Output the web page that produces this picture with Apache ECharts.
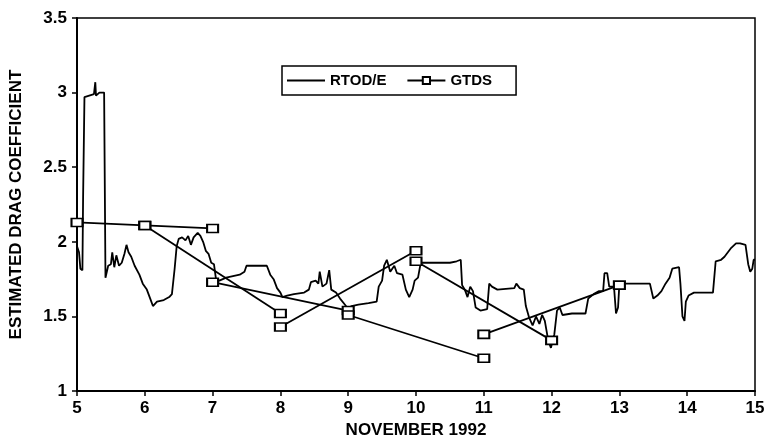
<!DOCTYPE html>
<html>
<head>
<meta charset="utf-8">
<script src="https://cdn.jsdelivr.net/npm/echarts@6/dist/echarts.min.js"></script>
<style>
  html, body { margin: 0; padding: 0; background: #fff; }
  #main { width: 768px; height: 444px; }
</style>
</head>
<body>
<div id="main"></div>
<script>
// day of November 1992
var rtodX = [5.00, 5.03, 5.05, 5.08, 5.09, 5.11, 5.18, 5.20, 5.25, 5.27, 5.28, 5.30, 5.33, 5.40, 5.42, 5.44, 5.46, 5.50, 5.52, 5.55,
  5.58, 5.62, 5.66, 5.70, 5.73, 5.76, 5.80, 5.85, 5.92, 5.97, 6.03, 6.08, 6.12, 6.18, 6.28, 6.36, 6.40, 6.44, 6.47, 6.50,
  6.55, 6.60, 6.64, 6.68, 6.72, 6.78, 6.82, 6.86, 6.90, 6.94, 6.98, 7.02, 7.05, 7.10, 7.20, 7.30, 7.40, 7.47, 7.50, 7.60,
  7.70, 7.80, 7.85, 7.90, 7.95, 8.00, 8.03, 8.10, 8.20, 8.35, 8.42, 8.45, 8.52, 8.56, 8.58, 8.62, 8.68, 8.72, 8.75, 8.82,
  8.88, 8.95, 9.00, 9.05, 9.15, 9.30, 9.42, 9.45, 9.50, 9.53, 9.57, 9.62, 9.68, 9.72, 9.80, 9.85, 9.90, 9.95, 9.98, 10.03,
  10.07, 10.30, 10.50, 10.60, 10.66, 10.68, 10.72, 10.76, 10.80, 10.84, 10.88, 10.95, 11.05, 11.08, 11.12, 11.20, 11.45, 11.48, 11.53, 11.59,
  11.62, 11.67, 11.72, 11.77, 11.82, 11.86, 11.90, 11.95, 11.99, 12.04, 12.08, 12.12, 12.16, 12.30, 12.50, 12.54, 12.62, 12.70, 12.76, 12.78,
  12.82, 12.85, 12.92, 12.95, 12.98, 13.00, 13.15, 13.30, 13.45, 13.50, 13.56, 13.62, 13.68, 13.74, 13.78, 13.88, 13.90, 13.93, 13.96, 13.98,
  14.02, 14.10, 14.20, 14.38, 14.42, 14.50, 14.55, 14.60, 14.65, 14.72, 14.78, 14.86, 14.90, 14.93, 14.96, 14.98, 15.00];
var rtodY = [1.97, 1.93, 1.82, 1.81, 2.30, 2.97, 2.98, 2.97, 2.99, 3.07, 2.98, 2.97, 3.00, 3.00, 1.76, 1.77, 1.84, 1.85, 1.93, 1.83,
  1.91, 1.84, 1.86, 1.92, 1.98, 1.93, 1.90, 1.84, 1.78, 1.72, 1.68, 1.62, 1.57, 1.60, 1.61, 1.63, 1.65, 1.82, 1.97, 2.02,
  2.03, 2.01, 2.04, 1.98, 2.03, 2.06, 2.04, 2.00, 1.94, 1.92, 1.86, 1.85, 1.75, 1.74, 1.76, 1.77, 1.78, 1.80, 1.84, 1.84,
  1.84, 1.84, 1.78, 1.75, 1.69, 1.66, 1.63, 1.64, 1.65, 1.66, 1.68, 1.73, 1.74, 1.72, 1.80, 1.70, 1.72, 1.81, 1.68, 1.66,
  1.62, 1.58, 1.55, 1.57, 1.58, 1.59, 1.60, 1.70, 1.74, 1.84, 1.88, 1.80, 1.84, 1.79, 1.78, 1.68, 1.63, 1.68, 1.74, 1.76,
  1.86, 1.86, 1.86, 1.87, 1.88, 1.71, 1.68, 1.63, 1.70, 1.67, 1.56, 1.54, 1.55, 1.72, 1.70, 1.68, 1.69, 1.72, 1.69, 1.68,
  1.57, 1.49, 1.44, 1.50, 1.45, 1.51, 1.47, 1.34, 1.29, 1.38, 1.54, 1.56, 1.51, 1.52, 1.52, 1.62, 1.65, 1.67, 1.67, 1.79,
  1.79, 1.70, 1.70, 1.52, 1.56, 1.72, 1.72, 1.72, 1.72, 1.62, 1.64, 1.67, 1.72, 1.76, 1.82, 1.83, 1.72, 1.50, 1.47, 1.60,
  1.64, 1.66, 1.66, 1.66, 1.87, 1.88, 1.90, 1.93, 1.96, 1.99, 1.99, 1.98, 1.85, 1.80, 1.82, 1.88, 1.88];

// GTDS solutions, one array per connected arc: [day, Cd]
var gtdsArc1 = [[5, 2.13], [6, 2.11], [7, 2.09]];
var gtdsArc2 = [[6, 2.11], [8, 1.52]];
var gtdsArc3 = [[7, 1.73], [9, 1.54]];
var gtdsArc4 = [[9, 1.51], [11, 1.22]];
var gtdsArc5 = [[8, 1.43], [10, 1.94]];
var gtdsArc6 = [[10, 1.87], [12, 1.34]];
var gtdsArc7 = [[11, 1.38], [13, 1.71]];

var yTicks = [1, 1.5, 2, 2.5, 3, 3.5];

var chartDom = document.getElementById("main");
var myChart = echarts.init(chartDom);
var font = "'Liberation Sans', Arial, sans-serif";

var rtodData = rtodX.map(function (x, i) {
  return [x, rtodY[i]];
});

function gtdsSeries(arc) {
  return {
    name: "GTDS",
    type: "line",
    data: arc,
    symbol: "rect",
    symbolSize: [11, 8],
    itemStyle: { color: "#fff", borderColor: "#000", borderWidth: 1.8 },
    lineStyle: { color: "#000", width: 1.8 },
    z: 3,
  };
}

var option = {
  animation: false,
  backgroundColor: "#fff",
  textStyle: { fontFamily: font, color: "#000" },
  grid: {
    left: 77,
    right: 13,
    top: 18,
    bottom: 48,
    show: true,
    borderColor: "#000",
    borderWidth: 1.5,
  },
  legend: {
    left: 282,
    top: 66,
    padding: [7, 24, 7, 4],
    itemGap: 20,
    itemWidth: 38,
    itemHeight: 9,
    borderColor: "#000",
    borderWidth: 1.5,
    data: [
      { name: "RTOD/E", itemStyle: { opacity: 0 } },
      { name: "GTDS" },
    ],
    textStyle: { fontFamily: font, fontSize: 15, fontWeight: "bold", color: "#000" },
  },
  xAxis: {
    type: "value",
    min: 5,
    max: 15,
    interval: 1,
    name: "NOVEMBER 1992",
    nameLocation: "middle",
    nameGap: 28,
    nameTextStyle: { fontFamily: font, fontSize: 17, fontWeight: "bold", color: "#000" },
    axisLine: { lineStyle: { color: "#000", width: 2 } },
    axisTick: { show: true, length: 5, lineStyle: { color: "#000", width: 1.5 } },
    axisLabel: { fontFamily: font, fontSize: 17, fontWeight: "bold", color: "#000", margin: 9 },
    splitLine: { show: false },
  },
  yAxis: {
    type: "value",
    min: 1,
    max: 3.5,
    interval: 0.5,
    name: "ESTIMATED DRAG COEFFICIENT",
    nameLocation: "middle",
    nameGap: 52,
    nameTextStyle: { fontFamily: font, fontSize: 17, fontWeight: "bold", color: "#000" },
    axisLine: { show: true, lineStyle: { color: "#000", width: 2 } },
    axisTick: { show: true, length: 5, lineStyle: { color: "#000", width: 1.5 } },
    axisLabel: {
      fontFamily: font,
      fontSize: 17,
      fontWeight: "bold",
      color: "#000",
      margin: 10,
      formatter: function (v) {
        return yTicks.indexOf(v) >= 0 ? String(v) : "";
      },
    },
    splitLine: { show: false },
  },
  series: [
    {
      name: "RTOD/E",
      type: "line",
      data: rtodData,
      symbol: "none",
      itemStyle: { color: "#000" },
      lineStyle: { color: "#000", width: 1.8 },
      z: 2,
    },
    gtdsSeries(gtdsArc1),
    gtdsSeries(gtdsArc2),
    gtdsSeries(gtdsArc3),
    gtdsSeries(gtdsArc4),
    gtdsSeries(gtdsArc5),
    gtdsSeries(gtdsArc6),
    gtdsSeries(gtdsArc7),
  ],
};

option && myChart.setOption(option);
</script>
</body>
</html>
